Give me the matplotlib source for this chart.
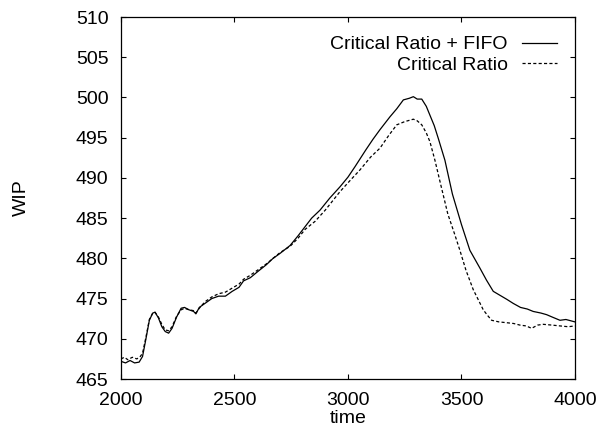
import matplotlib
matplotlib.use('Agg')
import matplotlib.pyplot as plt

# Critical Ratio + FIFO (solid)
t_fifo = [2000, 2020, 2040, 2060, 2080, 2095, 2110, 2125, 2140, 2150, 2165, 2180, 2195,
          2210, 2225, 2245, 2265, 2280, 2300, 2320, 2330, 2345, 2370, 2400, 2430, 2460,
          2490, 2520, 2540, 2570, 2600, 2640, 2670, 2700, 2745, 2780, 2810, 2840, 2877,
          2920, 2965, 3000, 3031, 3079, 3110, 3141, 3185, 3215, 3244, 3270, 3288, 3305,
          3325, 3345, 3361, 3380, 3398, 3427, 3460, 3500, 3537, 3581, 3610, 3640, 3670,
          3700, 3728, 3760, 3790, 3816, 3850, 3875, 3900, 3934, 3960, 4000]
wip_fifo = [467.2, 467.0, 467.3, 467.0, 467.1, 467.8, 470.0, 472.3, 473.2, 473.3, 472.6,
            471.5, 470.9, 470.7, 471.3, 472.7, 473.8, 473.9, 473.6, 473.4, 473.1, 473.9,
            474.4, 475.0, 475.3, 475.3, 475.9, 476.4, 477.2, 477.6, 478.3, 479.2, 480.0,
            480.6, 481.6, 482.8, 483.9, 485.0, 486.0, 487.5, 488.9, 490.1, 491.4, 493.5,
            494.8, 496.0, 497.6, 498.6, 499.7, 499.9, 500.1, 499.8, 499.8, 498.9, 497.8,
            496.5, 494.9, 492.2, 488.0, 484.2, 481.0, 478.8, 477.3, 475.9, 475.4, 474.9,
            474.4, 473.9, 473.7, 473.4, 473.2, 473.0, 472.7, 472.3, 472.4, 472.1]

# Critical Ratio (dashed)
t_cr = [2000, 2015, 2030, 2050, 2070, 2085, 2095, 2110, 2125, 2140, 2150, 2165, 2180,
        2195, 2210, 2225, 2245, 2265, 2280, 2300, 2320, 2330, 2345, 2370, 2400, 2430,
        2460, 2490, 2520, 2540, 2570, 2600, 2640, 2670, 2700, 2745, 2780, 2811, 2855,
        2900, 2965, 3010, 3053, 3100, 3141, 3180, 3215, 3250, 3288, 3305, 3325, 3345,
        3361, 3383, 3410, 3440, 3470, 3493, 3520, 3552, 3575, 3596, 3615, 3633, 3665,
        3699, 3730, 3758, 3785, 3809, 3835, 3860, 3900, 3934, 3970, 4000]
wip_cr = [467.5, 467.7, 467.4, 467.7, 467.5, 467.8, 468.2, 470.2, 472.4, 473.2, 473.3,
          472.7, 471.8, 471.1, 471.0, 471.5, 472.8, 473.6, 473.8, 473.6, 473.5, 473.2,
          473.8, 474.6, 475.2, 475.6, 475.8, 476.3, 476.8, 477.4, 477.9, 478.5, 479.3,
          480.0, 480.7, 481.5, 482.5, 483.6, 484.6, 486.0, 488.3, 489.7, 491.0, 492.6,
          493.7, 495.3, 496.6, 497.0, 497.3, 497.1, 496.6, 495.6, 494.5, 492.2, 489.0,
          485.5, 483.0, 481.0, 478.5, 476.1, 474.8, 473.6, 472.9, 472.3, 472.1, 472.0,
          471.9, 471.7, 471.6, 471.3, 471.7, 471.8, 471.7, 471.6, 471.5, 471.6]

x_ticks = [2000, 2500, 3000, 3500, 4000]
y_ticks = [465, 470, 475, 480, 485, 490, 495, 500, 505, 510]

plt.rcParams['font.family'] = ['Liberation Sans', 'DejaVu Sans']
plt.rcParams['font.size'] = 14

fig = plt.figure(figsize=(5.98, 4.26), dpi=100)
ax = fig.add_axes([0.2023, 0.1103, 0.7592, 0.8497])

ax.plot(t_fifo, wip_fifo, color='black', lw=0.9, label='Critical Ratio + FIFO')
ax.plot(t_cr, wip_cr, color='black', lw=0.9, dashes=(2.5, 1.8), label='Critical Ratio')

ax.set_xlim(2000, 4000)
ax.set_ylim(465, 510)
ax.set_xticks(x_ticks)
ax.set_yticks(y_ticks)
ax.tick_params(direction='in', top=True, right=True, length=3.6, width=0.8)
ax.tick_params(axis='x', pad=9)
ax.tick_params(axis='y', pad=9)
for s in ax.spines.values():
    s.set_linewidth(0.9)

ax.set_xlabel('time')
ax.xaxis.set_label_coords(0.5, -0.108)
ax.xaxis.label.set_va('center')
ax.set_ylabel('WIP')
ax.yaxis.set_label_coords(-0.22, 0.5)
ax.yaxis.label.set_va('center')

ax.legend(loc='upper right', bbox_to_anchor=(0.96, 0.948), frameon=False,
          markerfirst=False, handlelength=1.8, handletextpad=0.72,
          labelspacing=0.15, borderpad=0, borderaxespad=0)

fig.savefig('out.png', dpi=100)
